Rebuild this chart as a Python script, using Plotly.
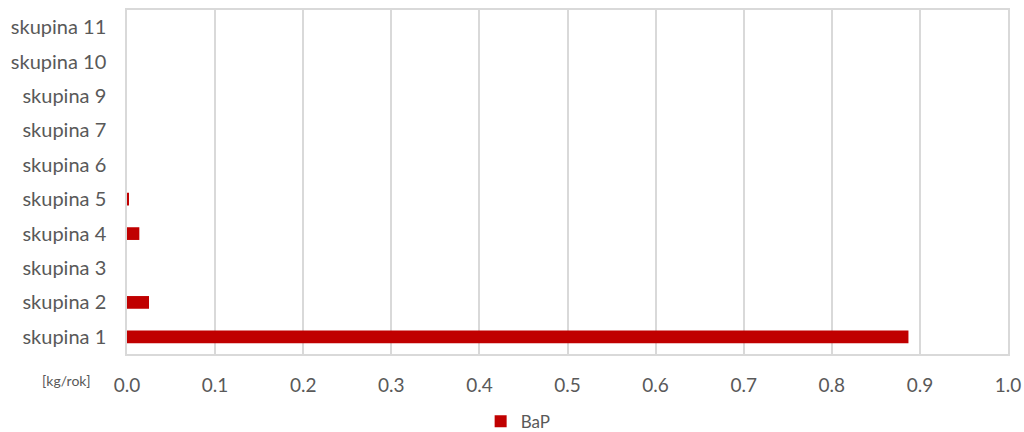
import plotly.graph_objects as go

# Skupiny zdrojů (odspodu nahoru) a jejich emise BaP v kg/rok
categories = ["skupina 1", "skupina 2", "skupina 3", "skupina 4", "skupina 5",
              "skupina 6", "skupina 7", "skupina 9", "skupina 10", "skupina 11"]
bap_values = [0.887, 0.025, 0.0, 0.014, 0.002, 0.0, 0.0, 0.0, 0.0, 0.0]
x_ticks = [0.0, 0.1, 0.2, 0.3, 0.4, 0.5, 0.6, 0.7, 0.8, 0.9, 1.0]
x_tick_labels = [f"{v:.1f}" for v in x_ticks]

FONT = "Lato, Open Sans, sans-serif"
GRID = "#d9d9d9"
TEXT = "#595959"

fig = go.Figure()
fig.add_trace(go.Bar(
    y=categories,
    x=bap_values,
    orientation="h",
    name="BaP",
    marker=dict(color="#C00000", line=dict(width=0)),
))

fig.update_layout(
    width=1024,
    height=432,
    margin=dict(l=127, r=16, t=10, b=78),
    paper_bgcolor="white",
    plot_bgcolor="white",
    bargap=0.63,
    font=dict(family=FONT, size=20, color=TEXT),
    showlegend=True,
    legend=dict(
        orientation="h",
        xref="container", yref="container",
        x=0.506, y=0.024, xanchor="center", yanchor="middle",
        font=dict(size=17, color=TEXT),
        itemwidth=30,
    ),
    xaxis=dict(
        range=[0, 1.0],
        tickvals=x_ticks,
        ticktext=x_tick_labels,
        showgrid=True,
        gridcolor=GRID,
        gridwidth=1.5,
        zeroline=False,
        showline=True,
        linecolor=GRID,
        linewidth=1.5,
        mirror=True,
        ticks="",
        ticklabelstandoff=13,
        tickfont=dict(size=19, color=TEXT),
        automargin=False,
        fixedrange=True,
    ),
    yaxis=dict(
        categoryorder="array",
        categoryarray=categories,
        showgrid=False,
        zeroline=False,
        showline=True,
        linecolor=GRID,
        linewidth=1.5,
        mirror=True,
        ticks="",
        ticklabelstandoff=15,
        tickfont=dict(size=20, color=TEXT),
        automargin=False,
        fixedrange=True,
    ),
)

fig.add_annotation(
    text="[kg/rok]",
    xref="paper", yref="paper",
    x=-0.04, y=-0.076,
    xanchor="right", yanchor="middle",
    showarrow=False,
    font=dict(family=FONT, size=14, color=TEXT),
)

fig.write_html("out.html")
